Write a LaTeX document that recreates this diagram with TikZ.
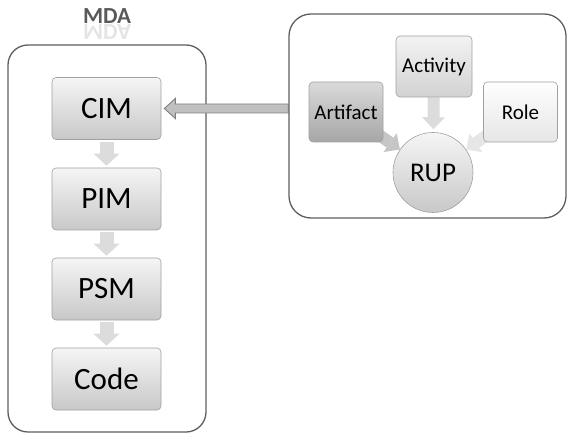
\documentclass[tikz,border=0pt]{standalone}
\usepackage{fontspec}
\setmainfont{Carlito}
\usetikzlibrary{arrows.meta,calc}
\definecolor{framec}{HTML}{5E5E5E}
\definecolor{boxline}{HTML}{A0A0A0}
\definecolor{boxtop}{HTML}{F5F5F5}
\definecolor{boxbot}{HTML}{C8C8C8}
\definecolor{arttop}{HTML}{DADADA}
\definecolor{artbot}{HTML}{A6A6A6}
\definecolor{acttop}{HTML}{F3F3F3}
\definecolor{actbot}{HTML}{D2D2D2}
\definecolor{roltop}{HTML}{FEFEFE}
\definecolor{rolbot}{HTML}{E6E6E6}
\definecolor{blockc}{HTML}{DCDCDC}
\definecolor{artarrow}{HTML}{C6C6C6}
\definecolor{bigfill}{HTML}{C0C0C0}
\definecolor{bigline}{HTML}{7F7F7F}
\definecolor{titlec}{HTML}{595959}
\pgfdeclarelayer{bg}
\pgfsetlayers{bg,main}
\tikzset{
  frame/.style={draw=framec, line width=1.3bp, rounded corners=20bp, inner sep=0pt},
  mdabox/.style={draw=boxline, line width=0.6bp, rounded corners=4bp, top color=boxtop, bottom color=boxbot,
     minimum width=109bp, minimum height=62bp, inner sep=0pt, font=\fontsize{31bp}{31bp}\selectfont},
  rupbox/.style={draw=boxline, line width=0.6bp, rounded corners=4bp,
     minimum width=74bp, minimum height=60bp, inner sep=0pt, font=\fontsize{21bp}{21bp}\selectfont},
  blockarrow/.style={line width=14bp, draw=blockc, -{Triangle[width=26bp 0 0,length=12bp 0 0,line width=0pt 0 0]}},
  smallarrow/.style={line width=12bp, draw=blockc, -{Triangle[width=23bp 0 0,length=12bp 0 0,line width=0pt 0 0]}},
  titlestyle/.style={font=\fontsize{23bp}{23bp}\selectfont\bfseries, text=titlec, anchor=base, inner sep=0pt},
}
\begin{document}
\begin{tikzpicture}[x=1bp,y=-1bp]
\useasboundingbox (0,0) rectangle (568,436);
% frames
\node[frame, minimum width=198bp, minimum height=387bp] (mda) at (107,238.5) {};
\node[frame, rounded corners=22bp, minimum width=277bp, minimum height=204bp] (rupframe) at (427.5,116) {};
% title with reflection
\node[titlestyle] (title) at (107,23.5) {MDA};
\node[titlestyle, text opacity=0.16, yscale=-1, transform shape] (titleref) at (107,25) {MDA};
% MDA chain
\node[mdabox] (cim) at (106.5,108.5) {CIM};
\node[mdabox] (pim) at (106.5,199) {PIM};
\node[mdabox] (psm) at (106.5,289) {PSM};
\node[mdabox] (code) at (106.5,379) {Code};
% RUP part
\node[rupbox, top color=acttop, bottom color=actbot, minimum width=76bp, minimum height=61bp] (act) at (434,66.5) {Activity};
\node[rupbox, top color=arttop, bottom color=artbot] (art) at (346,112) {Artifact};
\node[rupbox, top color=roltop, bottom color=rolbot] (role) at (520.5,112) {Role};
\node[circle, draw=boxline, line width=0.6bp, top color=boxtop, bottom color=boxbot, minimum size=80bp, inner sep=0pt,
      font=\fontsize{27bp}{27bp}\selectfont] (rup) at (433,172.5) {RUP};
\begin{pgfonlayer}{bg}
  \draw[blockarrow, shorten <=2bp, shorten >=2bp] (cim) -- (pim);
  \draw[blockarrow, shorten <=2bp, shorten >=2bp] (pim) -- (psm);
  \draw[blockarrow, shorten <=2bp, shorten >=2bp] (psm) -- (code);
  \draw[smallarrow, shorten >=3bp] (act) -- (rup);
  \draw[smallarrow, draw=artarrow, shorten <=-6bp] (art) -- (rup);
  \draw[smallarrow, draw=rolbot, shorten <=-6bp] (role) -- (rup);
\end{pgfonlayer}
% big hollow arrow from RUP frame to CIM
\coordinate (bt) at ($(cim.east)+(3,0)$);
\coordinate (bs) at (cim.east -| rupframe.west);
\filldraw[fill=bigfill, draw=bigline, line width=0.9bp, line join=miter]
  (bt) -- ($(bt)+(11,-10)$) -- ($(bt)+(11,-4.5)$) -- ($(bs)+(0,-4.5)$)
  -- ($(bs)+(0,4.5)$) -- ($(bt)+(11,4.5)$) -- ($(bt)+(11,10)$) -- cycle;
\end{tikzpicture}
\end{document}
